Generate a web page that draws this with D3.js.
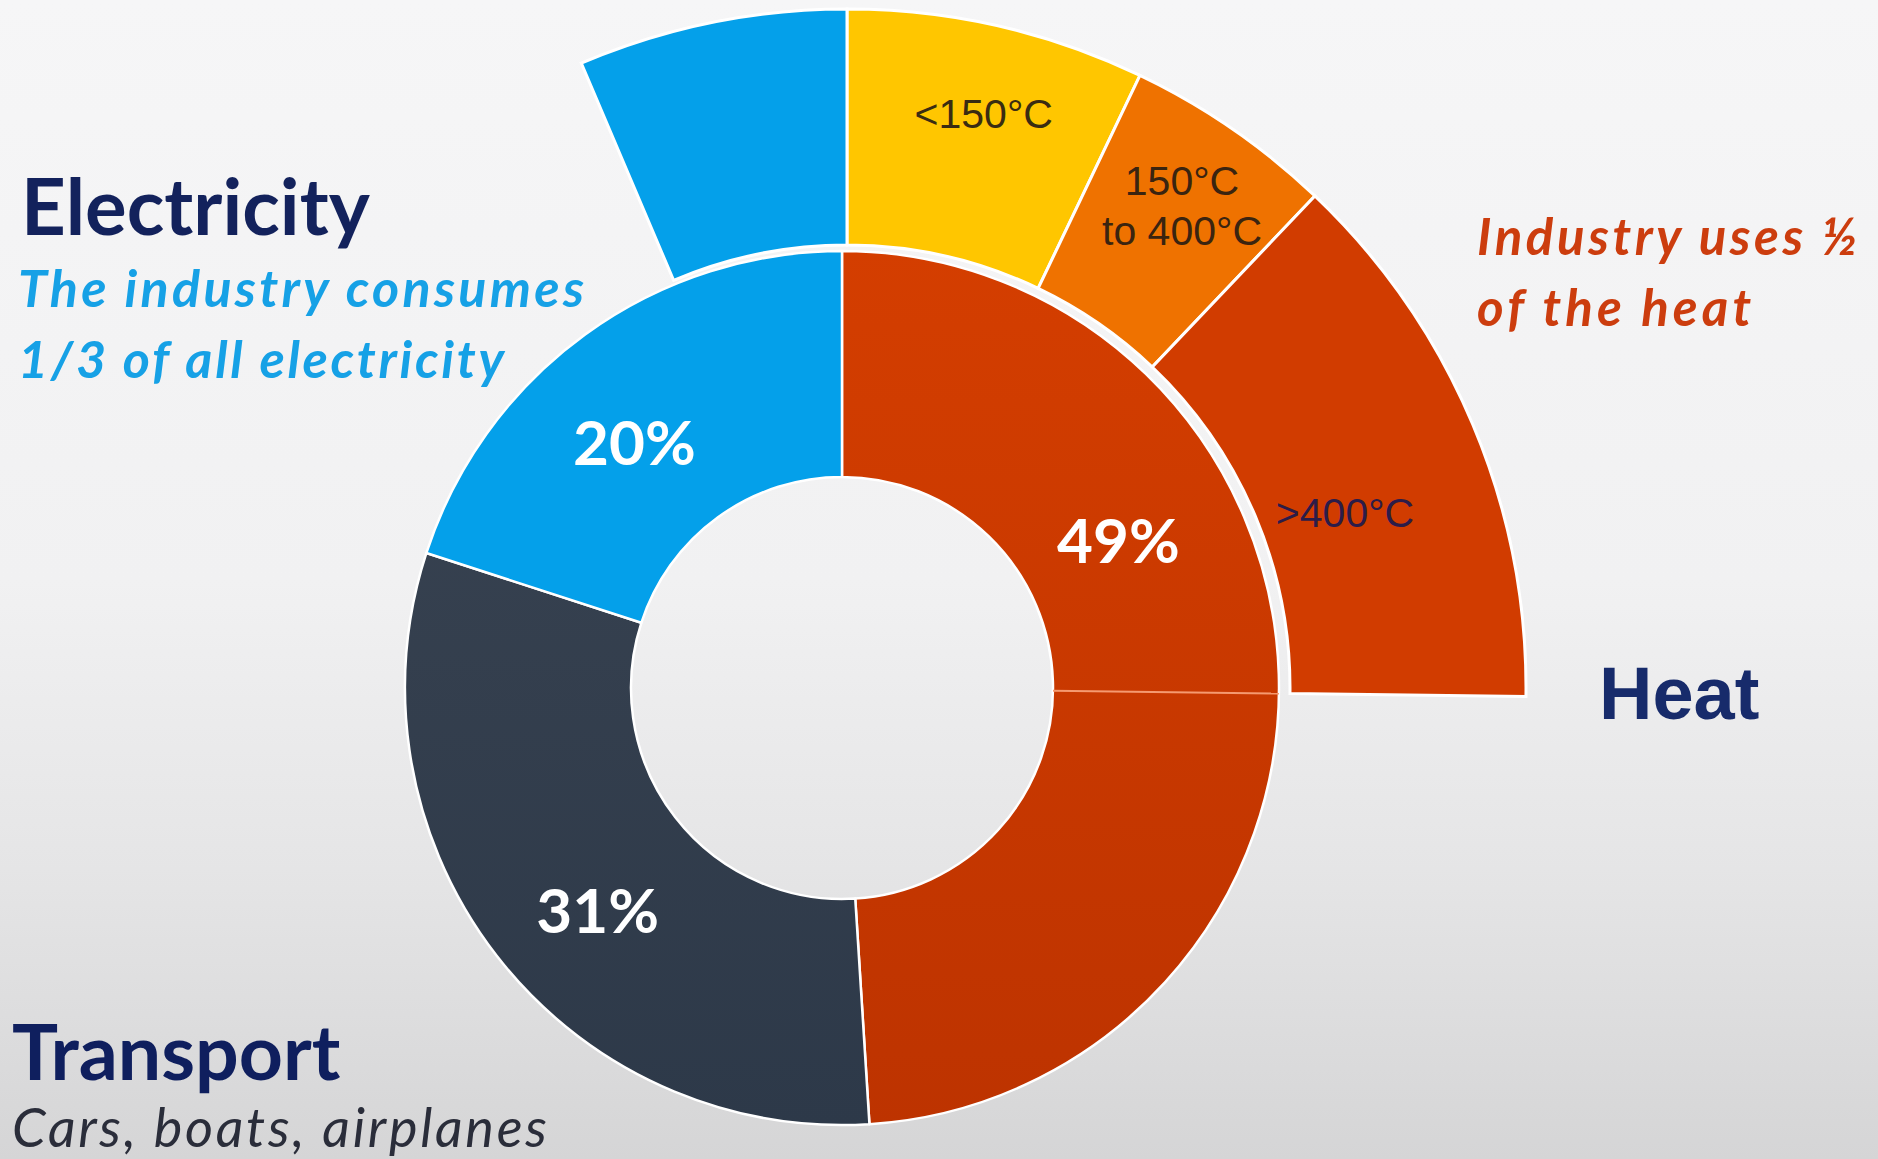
<!DOCTYPE html>
<html>
<head>
<meta charset="utf-8">
<script src="https://cdn.jsdelivr.net/npm/d3@7"></script>
<style>
  html, body { margin: 0; padding: 0; overflow: hidden; }
  svg { display: block; }
</style>
</head>
<body>
<svg id="chart" width="1878" height="1159"></svg>
<script>
// ---------------- DATA ----------------
const sectors = ["Heat", "Transport", "Electricity"];
const sectorShares = [49, 31, 20];              // % of final energy use
const sectorLabels = ["49%", "31%", "20%"];
const heatIndustryShare = 25.2;                  // part of heat (in % of total) used by industry
const heatBands = ["<150°C", "150°C|to 400°C", ">400°C"];
const heatBandShares = [7.1, 5.0, 13.1];         // industry heat by temperature, % of total
const electricityIndustryShare = 6.4;            // industry electricity, % of total

// ---------------- SETUP ----------------
const W = 1878, H = 1159;
const svg = d3.select("#chart");
const defs = svg.append("defs");

const bg = defs.append("linearGradient").attr("id", "bg")
  .attr("x1", 0).attr("y1", 0).attr("x2", 0).attr("y2", 1);
[[0, "#f6f6f7"], [0.5, "#f1f1f2"], [0.75, "#e5e5e6"], [1, "#d5d5d6"]]
  .forEach(([o, c]) => bg.append("stop").attr("offset", o).attr("stop-color", c));
svg.append("rect").attr("width", W).attr("height", H).attr("fill", "url(#bg)");

function vGrad(id, c1, c2) {
  const g = defs.append("linearGradient").attr("id", id)
    .attr("gradientUnits", "userSpaceOnUse")
    .attr("x1", 0).attr("y1", -440).attr("x2", 0).attr("y2", 440);
  g.append("stop").attr("offset", 0).attr("stop-color", c1);
  g.append("stop").attr("offset", 1).attr("stop-color", c2);
  return `url(#${id})`;
}
const sectorColors = {
  Heat: vGrad("gHeat", "#d43e00", "#bd3300"),
  Transport: vGrad("gTr", "#3a4452", "#2d3949"),
  Electricity: "#04a0ea"
};

const cx = 842, cy = 688;
const angle = d3.scaleLinear().domain([0, 100]).range([0, 2 * Math.PI]);

// ---------------- INNER DONUT ----------------
const inner = svg.append("g").attr("transform", `translate(${cx},${cy})`);
const pie = d3.pie().sort(null).value(d => d.v).startAngle(0).endAngle(2 * Math.PI);
const innerData = sectors.map((s, i) => ({ s, v: sectorShares[i], label: sectorLabels[i] }));
const arcIn = d3.arc().innerRadius(211).outerRadius(437);

inner.selectAll("path.sector").data(pie(innerData)).join("path")
  .attr("class", "sector")
  .attr("d", arcIn)
  .attr("fill", d => sectorColors[d.data.s])
  .attr("stroke", "#ffffff").attr("stroke-width", 2.5).attr("stroke-linejoin", "round");

// split of heat: industry part
const splitA = angle(heatIndustryShare);
inner.append("line")
  .attr("x1", 211 * Math.sin(splitA)).attr("y1", -211 * Math.cos(splitA))
  .attr("x2", 437 * Math.sin(splitA)).attr("y2", -437 * Math.cos(splitA))
  .attr("stroke", "#f59a70").attr("stroke-width", 2);

// percent labels (angle in degrees, radius)
const labelPlace = { Heat: [62, 313], Transport: [227.6, 331], Electricity: [319.7, 321] };
inner.selectAll("text.pct").data(innerData).join("text")
  .attr("class", "pct")
  .attr("x", d => labelPlace[d.s][1] * Math.sin(labelPlace[d.s][0] * Math.PI / 180))
  .attr("y", d => -labelPlace[d.s][1] * Math.cos(labelPlace[d.s][0] * Math.PI / 180) + 22)
  .attr("text-anchor", "middle")
  .attr("font-family", "Lato, 'Open Sans', sans-serif")
  .attr("font-weight", 700).attr("font-size", 62)
  .attr("fill", "#ffffff")
  .text(d => d.label);

// ---------------- OUTER RING ----------------
const outer = svg.append("g").attr("transform", `translate(${cx + 5},${cy})`);
const arcOut = d3.arc().innerRadius(443).outerRadius(679);

let cum = 0;
const bandData = heatBands.map((b, i) => {
  const d = { name: b, startAngle: angle(cum), endAngle: angle(cum + heatBandShares[i]) };
  cum += heatBandShares[i];
  return d;
});
const bandColors = ["#ffc600", "#ef7200", "#d13c00"];
const bandText = ["#3a2c12", "#3a2410", "#2c1c48"];

outer.selectAll("path.band").data(bandData).join("path")
  .attr("class", "band")
  .attr("d", arcOut)
  .attr("fill", (d, i) => bandColors[i])
  .attr("stroke", "#ffffff").attr("stroke-width", 3);

outer.append("path")
  .attr("d", arcOut({ startAngle: angle(-electricityIndustryShare), endAngle: 0 }))
  .attr("fill", "#04a0ea")
  .attr("stroke", "#ffffff").attr("stroke-width", 3);

// band labels
const bandLabelPlace = [[13.4, 590], [34.8, 587], [70.6, 528]];
outer.selectAll("text.band").data(bandData).join("text")
  .attr("class", "band")
  .attr("text-anchor", "middle")
  .attr("font-family", "'Liberation Sans', Arial, sans-serif")
  .attr("font-size", 41)
  .attr("fill", (d, i) => bandText[i])
  .attr("transform", (d, i) => {
    const [a, r] = bandLabelPlace[i];
    const rad = a * Math.PI / 180;
    return `translate(${r * Math.sin(rad)},${-r * Math.cos(rad)})`;
  })
  .each(function (d) {
    const lines = d.name.split("|");
    const t = d3.select(this);
    lines.forEach((ln, k) => {
      t.append("tspan").attr("x", 0)
        .attr("y", 14 + (k - (lines.length - 1) / 2) * 50)
        .text(ln);
    });
  });

// ---------------- ANNOTATIONS ----------------
const lato = "Lato, 'Open Sans', sans-serif";
function txt(x, y, s, o) {
  return svg.append("text").attr("x", x).attr("y", y)
    .attr("font-family", o.family || lato)
    .attr("font-weight", o.weight || 400)
    .attr("font-style", o.style || "normal")
    .attr("font-size", o.size)
    .attr("letter-spacing", o.ls || 0)
    .attr("fill", o.fill)
    .text(s);
}
txt(21, 235, "Electricity", { weight: 700, size: 78, fill: "#13225c" });
txt(18, 307, "The industry consumes", { weight: 700, style: "italic", size: 52, ls: 3.3, fill: "#16a1e6" });
txt(18, 378, "1/3 of all electricity", { weight: 700, style: "italic", size: 52, ls: 2.7, fill: "#16a1e6" });

txt(1477, 255, "Industry uses ½", { weight: 700, style: "italic", size: 51, ls: 3.6, fill: "#cc3d0e" });
txt(1477, 326, "of the heat", { weight: 700, style: "italic", size: 51, ls: 4.1, fill: "#cc3d0e" });

txt(1599, 719, "Heat", { family: "'Liberation Sans', Arial, sans-serif", weight: 700, size: 74, fill: "#172b6b" });

txt(12, 1080, "Transport", { weight: 700, size: 77, fill: "#0f1f5e" });
txt(12, 1147, "Cars, boats, airplanes", { style: "italic", size: 54, ls: 2.7, fill: "#2a2d3a" });
</script>
</body>
</html>
